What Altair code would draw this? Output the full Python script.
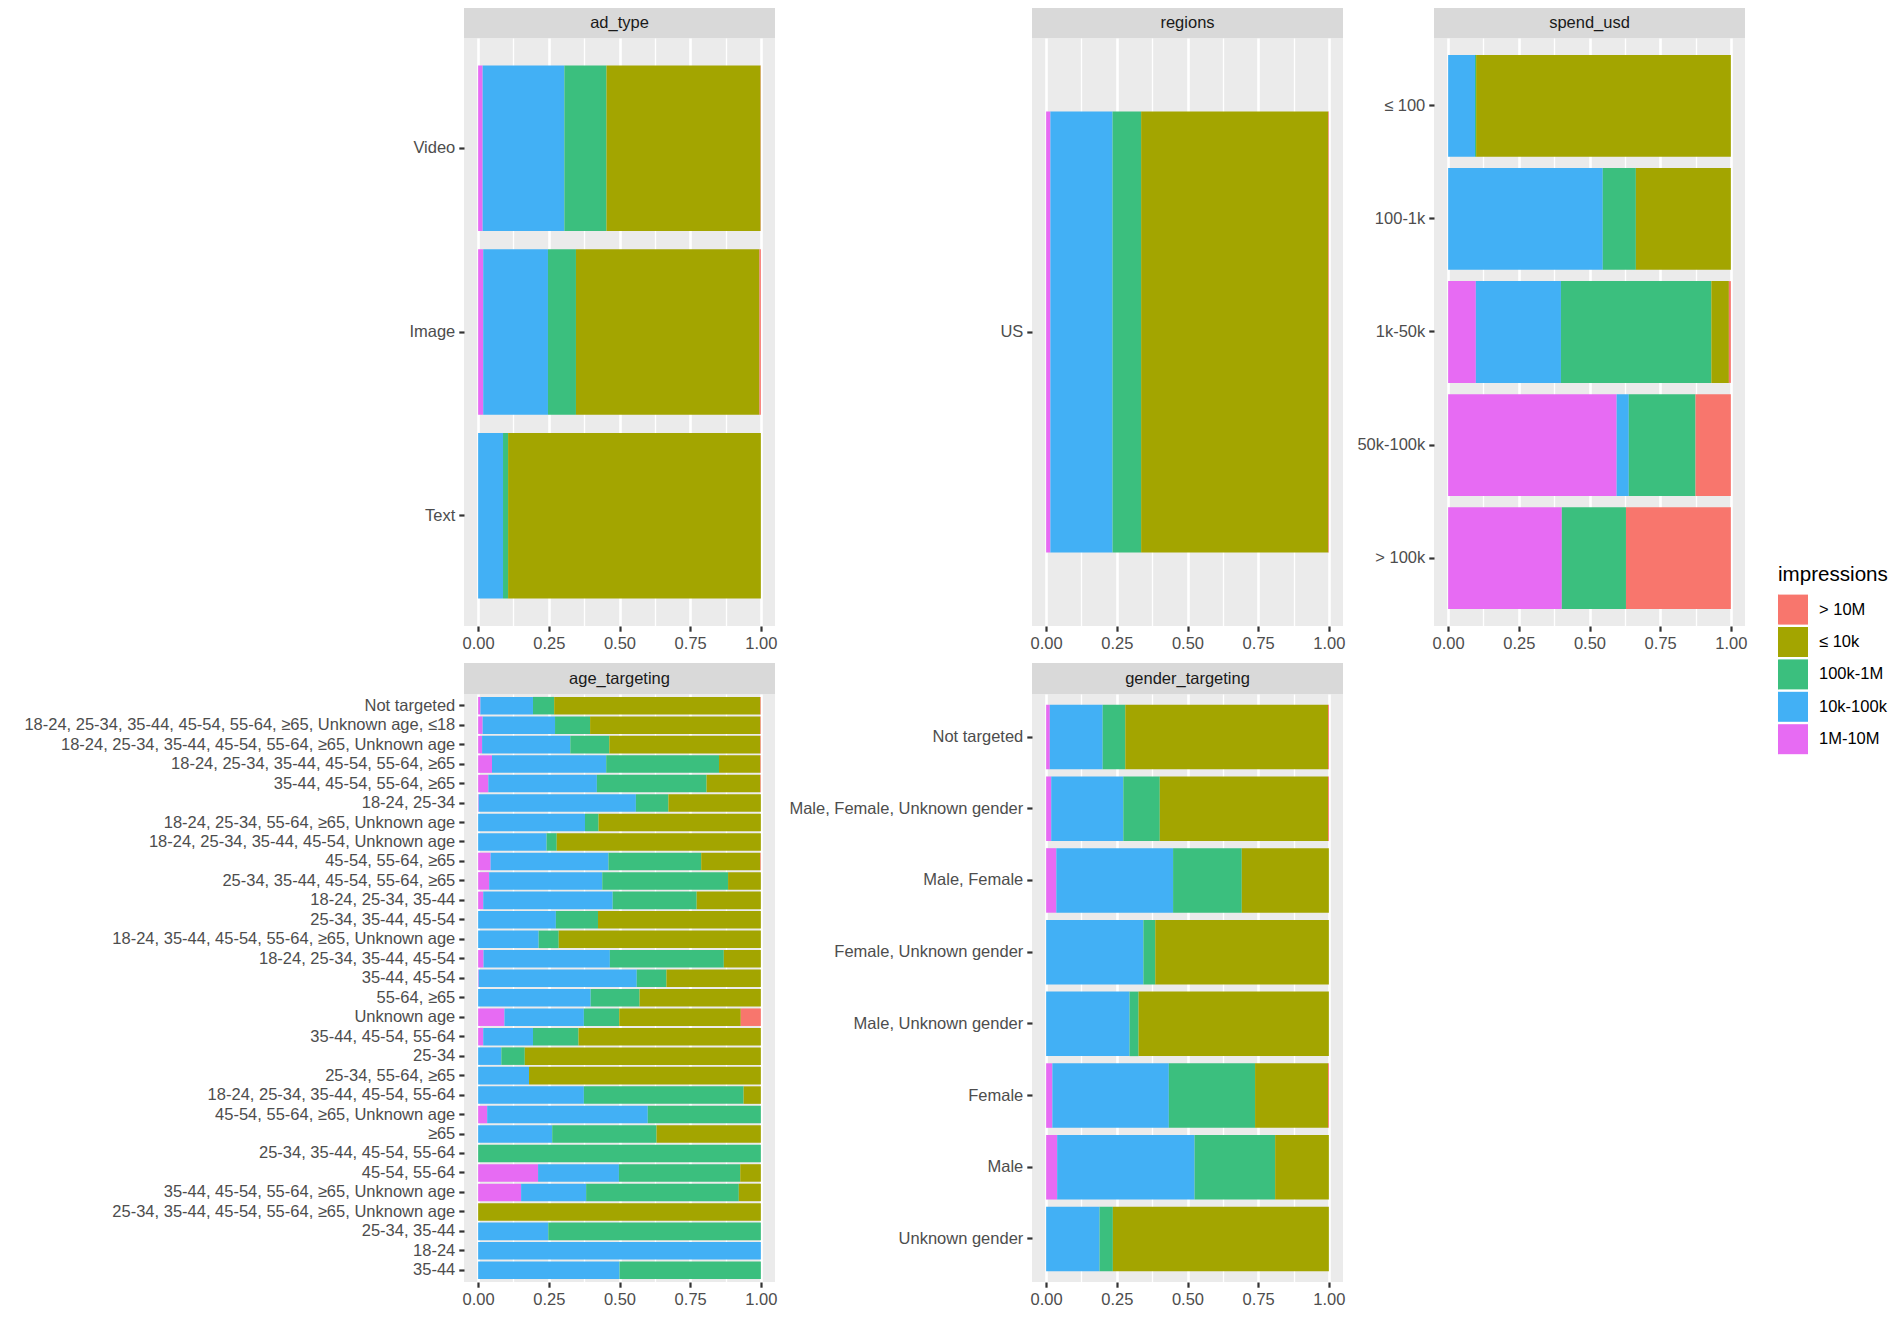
import altair as alt
import pandas as pd

# ---------------- data (fractions of ads per impression bucket) ----------------
LEVELS = ["> 10M", "≤ 10k", "100k-1M", "10k-100k", "1M-10M"]
COLORS = ["#F8766D", "#A3A500", "#3BBF7E", "#42B0F5", "#E76BF3"]
# stacking order from left to right
STACK_ORDER = ["1M-10M", "10k-100k", "100k-1M", "≤ 10k", "> 10M"]

AD_TYPE_CATS = ["Video", "Image", "Text"]
AD_TYPE_1M_10M = [0.016, 0.018, 0.0]
AD_TYPE_10K_100K = [0.289, 0.229, 0.088]
AD_TYPE_100K_1M = [0.149, 0.099, 0.018]
AD_TYPE_LE_10K = [0.545, 0.649, 0.894]
AD_TYPE_GT_10M = [0.001, 0.005, 0.0]

REGIONS_CATS = ["US"]
REGIONS_1M_10M = [0.015]
REGIONS_10K_100K = [0.220]
REGIONS_100K_1M = [0.101]
REGIONS_LE_10K = [0.662]
REGIONS_GT_10M = [0.002]

SPEND_CATS = ["≤ 100", "100-1k", "1k-50k", "50k-100k", "> 100k"]
SPEND_1M_10M = [0.0, 0.0, 0.098, 0.596, 0.402]
SPEND_10K_100K = [0.095, 0.547, 0.301, 0.043, 0.0]
SPEND_100K_1M = [0.004, 0.117, 0.532, 0.236, 0.227]
SPEND_LE_10K = [0.901, 0.336, 0.062, 0.0, 0.0]
SPEND_GT_10M = [0.0, 0.0, 0.007, 0.125, 0.371]

AGE_CATS = [
    "Not targeted",
    "18-24, 25-34, 35-44, 45-54, 55-64, ≥65, Unknown age, ≤18",
    "18-24, 25-34, 35-44, 45-54, 55-64, ≥65, Unknown age",
    "18-24, 25-34, 35-44, 45-54, 55-64, ≥65",
    "35-44, 45-54, 55-64, ≥65",
    "18-24, 25-34",
    "18-24, 25-34, 55-64, ≥65, Unknown age",
    "18-24, 25-34, 35-44, 45-54, Unknown age",
    "45-54, 55-64, ≥65",
    "25-34, 35-44, 45-54, 55-64, ≥65",
    "18-24, 25-34, 35-44",
    "25-34, 35-44, 45-54",
    "18-24, 35-44, 45-54, 55-64, ≥65, Unknown age",
    "18-24, 25-34, 35-44, 45-54",
    "35-44, 45-54",
    "55-64, ≥65",
    "Unknown age",
    "35-44, 45-54, 55-64",
    "25-34",
    "25-34, 55-64, ≥65",
    "18-24, 25-34, 35-44, 45-54, 55-64",
    "45-54, 55-64, ≥65, Unknown age",
    "≥65",
    "25-34, 35-44, 45-54, 55-64",
    "45-54, 55-64",
    "35-44, 45-54, 55-64, ≥65, Unknown age",
    "25-34, 35-44, 45-54, 55-64, ≥65, Unknown age",
    "25-34, 35-44",
    "18-24",
    "35-44",
]
AGE_1M_10M = [0.008, 0.016, 0.014, 0.049, 0.036, 0.002, 0, 0, 0.044, 0.039,
              0.018, 0, 0, 0.019, 0.002, 0, 0.093, 0.018, 0, 0,
              0, 0.032, 0, 0, 0.212, 0.152, 0, 0, 0, 0]
AGE_10K_100K = [0.186, 0.256, 0.312, 0.404, 0.384, 0.556, 0.378, 0.242, 0.417, 0.400,
                0.458, 0.275, 0.214, 0.447, 0.559, 0.398, 0.281, 0.176, 0.082, 0.180,
                0.374, 0.568, 0.262, 0, 0.286, 0.230, 0, 0.248, 1.0, 0.5]
AGE_100K_1M = [0.075, 0.124, 0.138, 0.399, 0.388, 0.115, 0.048, 0.036, 0.328, 0.445,
               0.297, 0.149, 0.071, 0.403, 0.105, 0.173, 0.125, 0.161, 0.083, 0,
               0.565, 0.400, 0.369, 1.0, 0.429, 0.540, 0, 0.752, 0, 0.5]
AGE_LE_10K = [0.729, 0.602, 0.534, 0.146, 0.190, 0.327, 0.574, 0.722, 0.209, 0.116,
              0.227, 0.576, 0.715, 0.131, 0.334, 0.429, 0.430, 0.645, 0.835, 0.820,
              0.061, 0, 0.369, 0, 0.073, 0.078, 1.0, 0, 0, 0]
AGE_GT_10M = [0.002, 0.002, 0.002, 0.002, 0.002, 0, 0, 0, 0.002, 0,
              0, 0, 0, 0, 0, 0, 0.071, 0, 0, 0,
              0, 0, 0, 0, 0, 0, 0, 0, 0, 0]

GENDER_CATS = ["Not targeted", "Male, Female, Unknown gender", "Male, Female",
               "Female, Unknown gender", "Male, Unknown gender", "Female", "Male",
               "Unknown gender"]
GENDER_1M_10M = [0.013, 0.018, 0.036, 0, 0, 0.022, 0.039, 0]
GENDER_10K_100K = [0.187, 0.255, 0.413, 0.344, 0.295, 0.412, 0.486, 0.189]
GENDER_100K_1M = [0.080, 0.129, 0.243, 0.042, 0.032, 0.305, 0.285, 0.047]
GENDER_LE_10K = [0.717, 0.595, 0.308, 0.614, 0.673, 0.258, 0.190, 0.764]
GENDER_GT_10M = [0.003, 0.003, 0, 0, 0, 0.003, 0, 0]

# ---------------- styling ----------------
FONT = "Liberation Sans"
W, H = 311, 588
STRIP_H = 31
AX_FS = 16.5
MAJOR_GRID = 2.6
MINOR_GRID = 1.3


def build_df(cats, p1m, p10k, p100k, ple10k, pgt10m):
    rows = []
    series = {"1M-10M": p1m, "10k-100k": p10k, "100k-1M": p100k,
              "≤ 10k": ple10k, "> 10M": pgt10m}
    for i, c in enumerate(cats):
        for lvl in STACK_ORDER:
            v = series[lvl][i]
            if v > 0:
                rows.append({"cat": c, "impressions": lvl, "frac": v,
                             "ord": STACK_ORDER.index(lvl)})
    return pd.DataFrame(rows)


is_major = "abs(datum.value*4 - round(datum.value*4)) < 0.001"


def panel(title, df, cats):
    x_axis = alt.Axis(
        title=None,
        values=[i / 8 for i in range(9)],
        labelExpr=is_major + " ? format(datum.value, '.2f') : ''",
        gridWidth={"condition": {"test": is_major, "value": MAJOR_GRID}, "value": MINOR_GRID},
        tickOpacity={"condition": {"test": is_major, "value": 1}, "value": 0},
        labelFlush=False,
        labelOverlap=False,
    )
    y_axis = alt.Axis(title=None, bandPosition=0.5, gridWidth=MAJOR_GRID,
                      labelLimit=1000, labelOverlap=False)
    bars = alt.Chart(df).mark_bar().encode(
        y=alt.Y("cat:N", sort=cats,
                scale=alt.Scale(domain=cats, paddingInner=0.1, paddingOuter=0.15),
                axis=y_axis),
        x=alt.X("frac:Q", stack="normalize",
                scale=alt.Scale(domain=[-0.05, 1.05], nice=False, zero=False),
                axis=x_axis),
        color=alt.Color("impressions:N",
                        scale=alt.Scale(domain=LEVELS, range=COLORS),
                        legend=alt.Legend(
                            title="impressions", orient="none",
                            legendX=1314, legendY=527,
                            symbolType="square", symbolSize=900,
                            symbolStrokeWidth=0, symbolOpacity=1,
                            rowPadding=2.4, labelOffset=11,
                            labelFont=FONT, labelFontSize=AX_FS, labelColor="#000000",
                            titleFont=FONT, titleFontSize=20.6, titleColor="#000000",
                            titleFontWeight="normal", titlePadding=9)),
        order=alt.Order("ord:Q"),
    )
    strip_df = pd.DataFrame({"label": [title]})
    strip_rect = alt.Chart(strip_df).mark_rect(color="#D9D9D9").encode(
        x=alt.value(0), x2=alt.value(W), y=alt.value(-STRIP_H), y2=alt.value(0))
    strip_text = alt.Chart(strip_df).mark_text(
        font=FONT, fontSize=AX_FS, color="#1A1A1A", baseline="middle", align="center"
    ).encode(x=alt.value(W / 2), y=alt.value(-STRIP_H / 2), text="label:N")
    return alt.layer(bars, strip_rect, strip_text).properties(width=W, height=H)


p_ad = panel("ad_type", build_df(AD_TYPE_CATS, AD_TYPE_1M_10M, AD_TYPE_10K_100K,
                                 AD_TYPE_100K_1M, AD_TYPE_LE_10K, AD_TYPE_GT_10M), AD_TYPE_CATS)
p_reg = panel("regions", build_df(REGIONS_CATS, REGIONS_1M_10M, REGIONS_10K_100K,
                                  REGIONS_100K_1M, REGIONS_LE_10K, REGIONS_GT_10M), REGIONS_CATS)
p_spend = panel("spend_usd", build_df(SPEND_CATS, SPEND_1M_10M, SPEND_10K_100K,
                                      SPEND_100K_1M, SPEND_LE_10K, SPEND_GT_10M), SPEND_CATS)
p_age = panel("age_targeting", build_df(AGE_CATS, AGE_1M_10M, AGE_10K_100K,
                                        AGE_100K_1M, AGE_LE_10K, AGE_GT_10M), AGE_CATS)
p_gender = panel("gender_targeting", build_df(GENDER_CATS, GENDER_1M_10M, GENDER_10K_100K,
                                              GENDER_100K_1M, GENDER_LE_10K, GENDER_GT_10M), GENDER_CATS)

chart = alt.concat(
    p_ad, p_reg, p_spend, p_age, p_gender,
    columns=3, spacing={"row": 11, "column": 11}, align="each", bounds="full",
).properties(
    padding={"left": 15, "top": -1, "right": 5, "bottom": 5},
    background="white",
).configure_view(
    fill="#EBEBEB", strokeWidth=0,
).configure_axis(
    labelFont=FONT, labelFontSize=AX_FS, labelColor="#4D4D4D",
    tickColor="#333333", tickSize=5.2, tickWidth=2.2,
    domain=False, gridColor="#FFFFFF", labelPadding=4,
)

chart.save("out.html", embed_options={"renderer": "svg", "actions": False})
